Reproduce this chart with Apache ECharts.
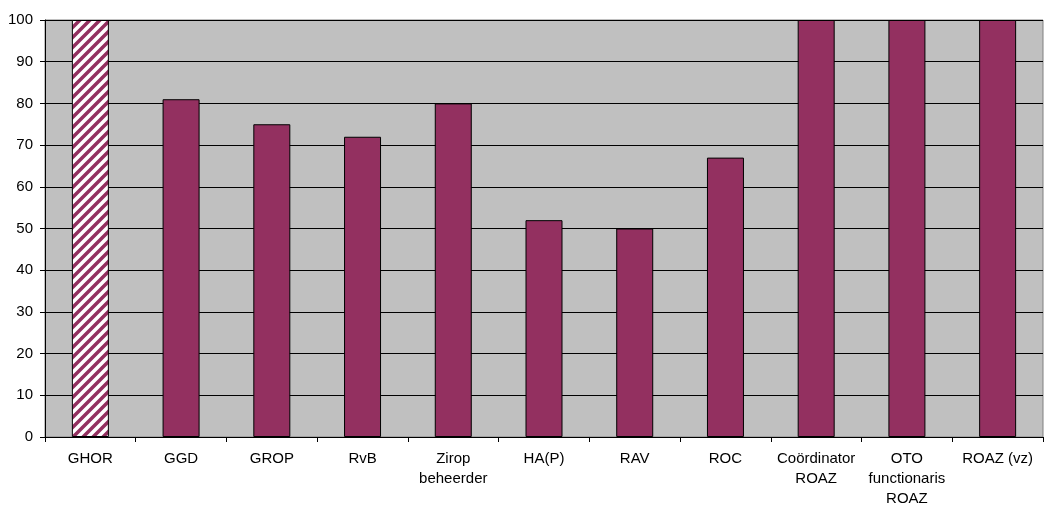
<!DOCTYPE html>
<html>
<head>
<meta charset="utf-8">
<script src="https://cdn.jsdelivr.net/npm/echarts@6/dist/echarts.min.js"></script>
<style>
  html, body { margin: 0; padding: 0; background: #fff; }
  #chart { width: 1044px; height: 506px; }
</style>
</head>
<body>
<div id="chart"></div>
<script>
const categories = [
  "GHOR", "GGD", "GROP", "RvB", "Zirop\nbeheerder", "HA(P)",
  "RAV", "ROC", "Coördinator\nROAZ", "OTO\nfunctionaris\nROAZ", "ROAZ (vz)"
];
const values = [100, 81, 75, 72, 80, 52, 50, 67, 100, 100, 100];
const hatchedIndex = 0;

// diagonal stripe pattern for the first bar
function makeHatch() {
  const c = document.createElement("canvas");
  c.width = 10;
  c.height = 10;
  const ctx = c.getContext("2d");
  ctx.fillStyle = "#ffffff";
  ctx.fillRect(0, 0, 10, 10);
  ctx.strokeStyle = "#933060";
  ctx.lineWidth = 3.5;
  ctx.beginPath();
  ctx.moveTo(-5, 5); ctx.lineTo(5, -5);
  ctx.moveTo(0, 10); ctx.lineTo(10, 0);
  ctx.moveTo(5, 15); ctx.lineTo(15, 5);
  ctx.stroke();
  return c;
}

const chart = echarts.init(document.getElementById("chart"));
const hatch = makeHatch();

chart.setOption({
  animation: false,
  grid: {
    left: 45,
    right: 1,
    top: 20,
    bottom: 69,
    outerBoundsMode: "none",
    containLabel: false,
    show: true,
    backgroundColor: "#c0c0c0",
    borderColor: "#808080",
    borderWidth: 1,
  },
  xAxis: {
    type: "category",
    data: categories,
    axisLine: { lineStyle: { color: "#000", width: 1 } },
    axisTick: { show: true, length: 5, lineStyle: { color: "#000" } },
    axisLabel: {
      color: "#000",
      fontFamily: "Liberation Sans, Arial",
      fontSize: 15,
      lineHeight: 20,
      margin: 12,
      interval: 0,
    },
  },
  yAxis: {
    type: "value",
    min: 0,
    max: 100,
    interval: 10,
    axisLine: { show: true, lineStyle: { color: "#000" } },
    axisTick: { show: true, length: 5, lineStyle: { color: "#000" } },
    axisLabel: {
      color: "#000",
      fontFamily: "Liberation Sans, Arial",
      fontSize: 15,
      margin: 12,
    },
    splitLine: { show: true, lineStyle: { color: "#000", width: 1 } },
  },
  series: [
    {
      type: "bar",
      barWidth: 37,
      data: values.map((v, i) => ({
        value: v,
        itemStyle: i === hatchedIndex
          ? { color: { image: hatch, repeat: "repeat" } }
          : {},
      })),
      itemStyle: {
        color: "#933060",
        borderColor: "#000",
        borderWidth: 1,
      },
    },
  ],
});
</script>
</body>
</html>
